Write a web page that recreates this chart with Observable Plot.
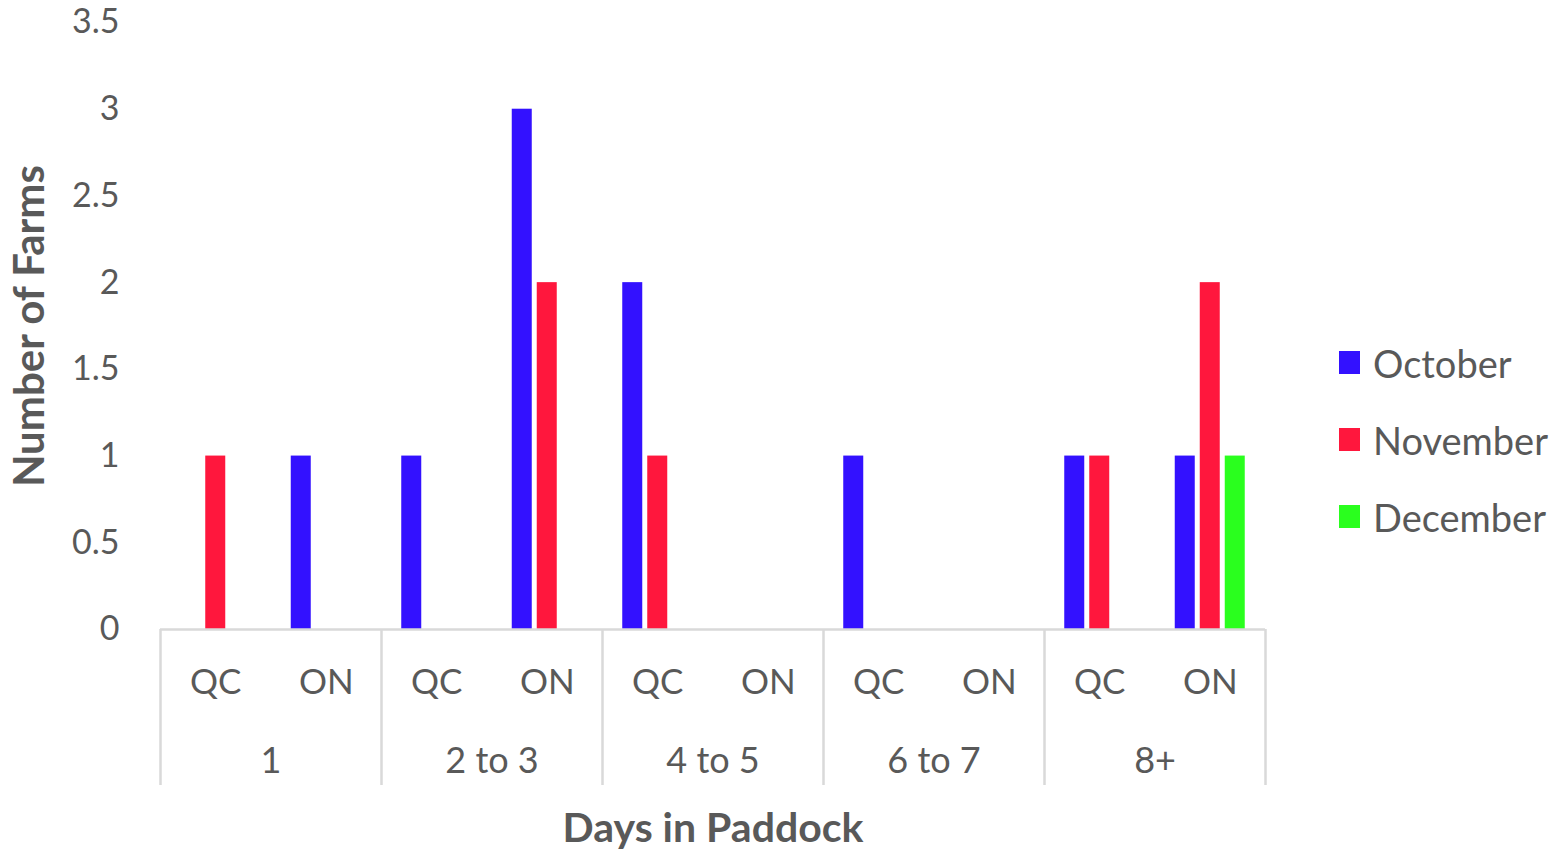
<!DOCTYPE html>
<html>
<head>
<meta charset="utf-8">
<script src="https://cdn.jsdelivr.net/npm/d3@7"></script>
<script src="https://cdn.jsdelivr.net/npm/@observablehq/plot@0.6"></script>
<style>
  html, body { margin: 0; padding: 0; background: #fff; }
  #wrap { position: relative; width: 1561px; height: 850px; font-family: Lato, "Open Sans", sans-serif; }
  #legend { position: absolute; left: 1339px; top: 324px; display: flex; flex-direction: column; }
  .row { height: 77px; display: flex; align-items: center; }
  .sw { width: 21px; height: 23px; }
  .lab { margin-left: 13px; font-size: 38px; color: #595959; }
</style>
</head>
<body>
<div id="wrap"><div id="chart"></div><div id="legend"></div></div>
<script>
const groups = ["1", "2 to 3", "4 to 5", "6 to 7", "8+"];
const provinces = ["QC", "ON"];
const months = ["October", "November", "December"];
const monthColors = ["#3311ff", "#ff173d", "#2aff1e"];
// values per subcategory, in order: 1 QC, 1 ON, 2-3 QC, 2-3 ON, 4-5 QC, 4-5 ON, 6-7 QC, 6-7 ON, 8+ QC, 8+ ON
const october  = [0, 1, 1, 3, 2, 0, 1, 0, 1, 1];
const november = [1, 0, 0, 2, 1, 0, 0, 0, 1, 2];
const december = [0, 0, 0, 0, 0, 0, 0, 0, 0, 1];
const yTicks = [0, 0.5, 1, 1.5, 2, 2.5, 3, 3.5];

const keys = groups.flatMap(g => provinces.map(p => g + "|" + p));
const series = [october, november, december];
const rows = [];
months.forEach((m, mi) => keys.forEach((k, ki) => rows.push({key: k, month: m, value: series[mi][ki]})));

const W = 1561, H = 850, ML = 160, MR = 296, MT = 22, MB = 221;
const bw = (W - ML - MR) / keys.length;
const barW = 20, slot = 25;
const inset = (bw - barW) / 2;
const lineColor = "#d9d9d9";
const textColor = "#595959";

const chart = Plot.plot({
  width: W, height: H,
  marginLeft: ML, marginRight: MR, marginTop: MT, marginBottom: MB,
  style: {fontFamily: "Lato, 'Open Sans', sans-serif", fontSize: "34px", color: textColor, background: "white"},
  x: {domain: keys, padding: 0, round: false, axis: null},
  y: {domain: [0, 3.5], ticks: yTicks, tickSize: 0, tickPadding: 41, label: null, tickFormat: d => String(d)},
  color: {domain: months, range: monthColors},
  marks: [
    ...months.map((m, i) => Plot.barY(rows.filter(r => r.month === m && r.value > 0), {
      x: "key", y: "value", fill: "month", dx: (i - 1) * slot, insetLeft: inset, insetRight: inset
    })),
    Plot.ruleY([0], {stroke: lineColor, strokeWidth: 2.5}),
    Plot.ruleX(groups, {x: g => g + "|QC", dx: -bw / 2, insetTop: H - MT - MB, insetBottom: -156, stroke: lineColor, strokeWidth: 2.5}),
    Plot.ruleX([groups[groups.length - 1]], {x: g => g + "|ON", dx: bw / 2, insetTop: H - MT - MB, insetBottom: -156, stroke: lineColor, strokeWidth: 2.5}),
    Plot.text(keys, {x: d => d, text: d => d.split("|")[1], frameAnchor: "bottom", dy: 53, lineAnchor: "middle", fontSize: 35, fill: textColor}),
    Plot.text(groups, {x: g => g + "|ON", text: d => d, dx: -bw / 2, frameAnchor: "bottom", dy: 132, lineAnchor: "middle", fontSize: 36, fill: textColor}),
    Plot.text(["Number of Farms"], {text: d => d, frameAnchor: "left", textAnchor: "middle", rotate: -90, dx: -130, lineAnchor: "middle", fontSize: 42, fontWeight: "bold", fill: textColor}),
    Plot.text(["Days in Paddock"], {text: d => d, frameAnchor: "bottom", textAnchor: "middle", dy: 199, lineAnchor: "middle", fontSize: 41, fontWeight: "bold", fill: textColor})
  ]
});
document.getElementById("chart").appendChild(chart);

const legend = document.getElementById("legend");
months.forEach((m, i) => {
  const row = document.createElement("div");
  row.className = "row";
  const sw = document.createElement("div");
  sw.className = "sw";
  sw.style.background = monthColors[i];
  const lab = document.createElement("div");
  lab.className = "lab";
  lab.textContent = m;
  row.appendChild(sw);
  row.appendChild(lab);
  legend.appendChild(row);
});
</script>
</body>
</html>
